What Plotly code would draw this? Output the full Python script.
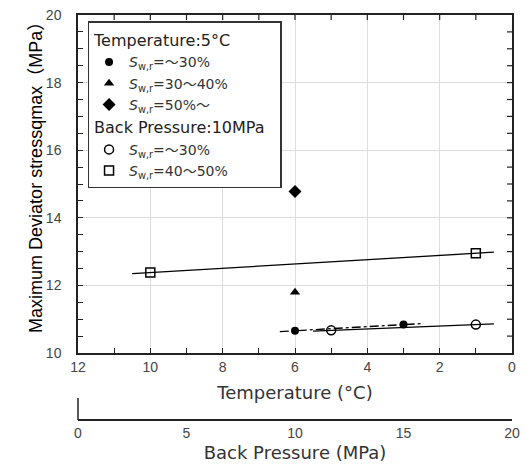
import numpy as np
import plotly.graph_objects as go

# ---- data ----
# Temperature 5°C series, plotted against Back Pressure (MPa)
bp_circle_x = [10, 15]
bp_circle_y = [10.66, 10.84]
bp_tri_x = [10]
bp_tri_y = [11.8]
bp_dia_x = [10]
bp_dia_y = [14.78]
bp_circle_fit_range = [9.3, 15.9]

# Back Pressure 10 MPa series, plotted against Temperature (°C)
t_circle_x = [5, 1]
t_circle_y = [10.67, 10.84]
t_square_x = [10, 1]
t_square_y = [12.38, 12.95]
t_circle_fit_range = [5.5, 0.5]
t_square_fit_range = [10.5, 0.5]

temp_ticks = list(range(1, 12))          # minor tick marks every 1 °C
temp_labels = [12, 10, 8, 6, 4, 2, 0]    # labelled ticks / grid
bp_ticks = [0, 5, 10, 15, 20]
y_ticks = [10 + 0.5 * i for i in range(1, 20)]  # tick marks every 0.5 MPa
y_labels = [10, 12, 14, 16, 18, 20]

FONT = "Liberation Sans, Arial, Noto Sans CJK JP, sans-serif"
WFONT = "DejaVu Sans, Noto Sans CJK JP, sans-serif"
LBL = "<i>S</i><sub>w,r</sub>"


def fit(xs, ys, rng):
    k, b = np.polyfit(xs, ys, 1)
    xr = np.array(rng, dtype=float)
    return xr, k * xr + b


fig = go.Figure()

# fit lines
xr, yr = fit(t_square_x, t_square_y, t_square_fit_range)
fig.add_trace(go.Scatter(x=xr, y=yr, mode="lines", xaxis="x", yaxis="y",
                         line=dict(color="black", width=1.3), showlegend=False, hoverinfo="skip"))
xr, yr = fit(t_circle_x, t_circle_y, t_circle_fit_range)
fig.add_trace(go.Scatter(x=xr, y=yr, mode="lines", xaxis="x", yaxis="y",
                         line=dict(color="black", width=1.3), showlegend=False, hoverinfo="skip"))
xr, yr = fit(bp_circle_x, bp_circle_y, bp_circle_fit_range)
fig.add_trace(go.Scatter(x=xr, y=yr, mode="lines", xaxis="x2", yaxis="y",
                         line=dict(color="black", width=1.3, dash="dashdot"), showlegend=False, hoverinfo="skip"))

# Temperature 5°C group
hfont = dict(size=16, color="#222", family=WFONT)
g1 = dict(legendgroup="g1", legendgrouptitle=dict(text="Temperature:5°C", font=hfont))
fig.add_trace(go.Scatter(x=bp_circle_x, y=bp_circle_y, mode="markers", xaxis="x2", yaxis="y",
                         name=LBL + "=～30%", marker=dict(symbol="circle", size=8, color="black"), **g1))
fig.add_trace(go.Scatter(x=bp_tri_x, y=bp_tri_y, mode="markers", xaxis="x2", yaxis="y",
                         name=LBL + "=30～40%", marker=dict(symbol="triangle-up", size=9, color="black"), **g1))
fig.add_trace(go.Scatter(x=bp_dia_x, y=bp_dia_y, mode="markers", xaxis="x2", yaxis="y",
                         name=LBL + "=50%～", marker=dict(symbol="diamond", size=10, color="black"), **g1))

# Back Pressure 10MPa group
g2 = dict(legendgroup="g2", legendgrouptitle=dict(text="Back Pressure:10MPa\u00a0", font=hfont))
fig.add_trace(go.Scatter(x=t_circle_x, y=t_circle_y, mode="markers", xaxis="x", yaxis="y",
                         name=LBL + "=～30%", marker=dict(symbol="circle-open", size=9, color="black",
                                                           line=dict(width=1.5)), **g2))
fig.add_trace(go.Scatter(x=t_square_x, y=t_square_y, mode="markers", xaxis="x", yaxis="y",
                         name=LBL + "=40～50%", marker=dict(symbol="square-open", size=9, color="black",
                                                             line=dict(width=1.5)), **g2))

tickfont = dict(size=14, color="#444", family=FONT)
ydom0 = (420 - 353) / 405.0
tk = dict(ticks="inside", ticklen=5, tickcolor="#222", tickwidth=1.2)
TICKLINE = dict(color="#222", width=1.2)

fig.update_layout(
    width=531, height=469,
    margin=dict(l=78, r=19, t=15, b=49, autoexpand=False),
    paper_bgcolor="white", plot_bgcolor="white",
    font=dict(family=FONT, color="black"),
    showlegend=True,
    legend=dict(x=0.022, y=0.985, xanchor="left", yanchor="top",
                bgcolor="white", bordercolor="#333", borderwidth=1.5,
                font=dict(size=14, color="#333", family=WFONT),
                traceorder="grouped", tracegroupgap=0, itemwidth=30),
    xaxis=dict(range=[12, 0], tickvals=temp_labels, anchor="y",
               showline=True, linecolor="#222", linewidth=1.5, mirror=True, **tk,
               minor=dict(tickvals=temp_ticks, showgrid=False, **tk),
               showgrid=True, gridcolor="#dcdcdc", gridwidth=1,
               zeroline=False, tickfont=tickfont, automargin=False,
               title=dict(text="Temperature (°C)", font=dict(size=18, color="#333", family=WFONT),
                          standoff=13)),
    xaxis2=dict(range=[0, 20], tickvals=bp_ticks, overlaying="x", anchor="free", position=0,
                side="bottom", showline=True, linecolor="#222", linewidth=1.5,
                ticks="", showgrid=False, zeroline=False, tickfont=tickfont, automargin=False,
                title=dict(text="Back Pressure (MPa)", font=dict(size=18, color="#333", family=WFONT),
                           standoff=6)),
    yaxis=dict(range=[10, 20], tickvals=y_labels, domain=[ydom0, 1],
               showline=True, linecolor="#222", linewidth=1.5, mirror=True, **tk,
               minor=dict(tickvals=y_ticks, showgrid=False, **tk),
               showgrid=True, gridcolor="#dcdcdc", gridwidth=1,
               zeroline=False, tickfont=tickfont, ticklabelstandoff=12, automargin=False),
)

# mirrored tick marks on the top and right frame edges, placed from the tick lists
for t in temp_ticks:
    fig.add_shape(type="line", xref="x", yref="y domain", x0=t, x1=t, y0=1, y1=1 - 5 / 338.0,
                  line=TICKLINE)
for v in y_ticks:
    fig.add_shape(type="line", xref="x domain", yref="y", x0=1, x1=1 - 5 / 434.0, y0=v, y1=v,
                  line=TICKLINE)

# y-axis title
fig.add_annotation(text="Maximum Deviator stressqmax（MPa）", xref="paper", yref="paper",
                   x=-0.097, y=(420 - 173) / 405.0, xanchor="center", yanchor="middle",
                   textangle=-90, showarrow=False, font=dict(size=18, color="black", family=FONT))

# left end tick of the back-pressure axis
fig.add_shape(type="line", xref="paper", yref="paper", x0=0, x1=0, y0=0, y1=22 / 405.0,
              line=dict(color="#222", width=1.5))

fig.write_html("out.html")
